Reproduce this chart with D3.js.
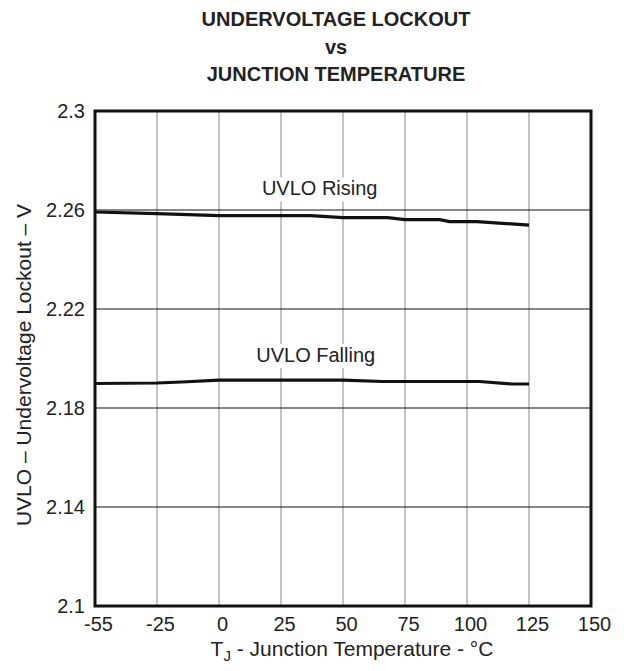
<!DOCTYPE html>
<html>
<head>
<meta charset="utf-8">
<script src="https://cdn.jsdelivr.net/npm/d3@7"></script>
<style>
  body { margin: 0; background: #fff; }
  svg text { font-family: "Liberation Sans", Arial, sans-serif; fill: #222; }
</style>
</head>
<body>
<script>
// data
const xTicks = [-55, -25, 0, 25, 50, 75, 100, 125, 150];
const yTicks = [2.1, 2.14, 2.18, 2.22, 2.26, 2.3];

const risingT = [-55, -25, 0, 37, 50, 68, 75, 89, 93, 104, 125];
const risingV = [2.2592, 2.2585, 2.2577, 2.2577, 2.2569, 2.2569, 2.2561, 2.2561, 2.2553, 2.2553, 2.2539];

const fallingT = [-55, -25, -15, 0, 25, 50, 66, 75, 100, 105, 118, 125];
const fallingV = [2.1899, 2.1901, 2.1905, 2.1913, 2.1913, 2.1913, 2.1907, 2.1907, 2.1907, 2.1907, 2.1897, 2.1897];

const titleLines = ['UNDERVOLTAGE LOCKOUT', 'vs', 'JUNCTION TEMPERATURE'];

const outerW = 624,
    outerH = 671;

const margin = { left: 95, right: 33, top: 111, bottom: 65 };
const w = outerW - margin.left - margin.right,
    h = outerH - margin.top - margin.bottom;

const svg = d3.select('body').append('svg')
    .attr('width', outerW)
    .attr('height', outerH);

// ticks are evenly spaced even though -55 -> -25 is 30 degrees
const x = d3.scaleLinear()
    .domain([-55, -25, 150])
    .range([0, w / 8, w]);
const y = d3.scaleLinear().domain([2.1, 2.3]).range([h, 0]);

const g = svg.append('g')
    .attr('transform', `translate(${margin.left}, ${margin.top})`);

// vertical grid
g.append('g')
    .selectAll('line')
    .data(xTicks.slice(1, -1))
    .enter().append('line')
    .attr('x1', d => x(d)).attr('x2', d => x(d))
    .attr('y1', 0).attr('y2', h)
    .attr('stroke', '#888')
    .attr('stroke-width', 1);

// horizontal grid
g.append('g')
    .selectAll('line')
    .data(yTicks.slice(1, -1))
    .enter().append('line')
    .attr('x1', 0).attr('x2', w)
    .attr('y1', d => y(d)).attr('y2', d => y(d))
    .attr('stroke', '#111')
    .attr('stroke-width', 1);

// axes (labels only)
const xAxis = g.append('g')
    .attr('transform', `translate(0, ${h})`)
    .call(d3.axisBottom(x).tickValues(xTicks).tickSize(0).tickPadding(11).tickFormat(d => String(d)));
xAxis.select('.domain').remove();
xAxis.selectAll('text').attr('font-size', 20).attr('dx', 3).attr('fill', '#222');

const yAxis = g.append('g')
    .call(d3.axisLeft(y).tickValues(yTicks).tickSize(0).tickPadding(10).tickFormat(d => String(+d.toFixed(2))));
yAxis.select('.domain').remove();
yAxis.selectAll('text').attr('font-size', 20).attr('fill', '#222');

// curve labels with white boxes behind
const labels = [
    { text: 'UVLO Rising', t: 40.6, v: 2.2659 },
    { text: 'UVLO Falling', t: 39, v: 2.1986 }
];
labels.forEach(l => {
    const t = g.append('text')
        .attr('x', x(l.t))
        .attr('y', y(l.v))
        .attr('text-anchor', 'middle')
        .attr('font-size', 20)
        .text(l.text);
    const b = t.node().getBBox();
    g.insert('rect', function() { return t.node(); })
        .attr('x', b.x - 2).attr('y', b.y)
        .attr('width', b.width + 4).attr('height', b.height + 2)
        .attr('fill', '#fff');
});

const line = d3.line()
    .x(d => x(d[0]))
    .y(d => y(d[1]));

[[risingT, risingV], [fallingT, fallingV]].forEach(([ts, vs]) => {
    g.append('path')
        .datum(ts.map((t, i) => [t, vs[i]]))
        .attr('d', line)
        .attr('fill', 'none')
        .attr('stroke', '#111')
        .attr('stroke-width', 3.2);
});

// frame
g.append('rect')
    .attr('x', 0).attr('y', 0)
    .attr('width', w).attr('height', h)
    .attr('fill', 'none')
    .attr('stroke', '#111')
    .attr('stroke-width', 3);

// title
svg.append('g')
    .selectAll('text')
    .data(titleLines)
    .enter().append('text')
    .attr('x', 336)
    .attr('y', (d, i) => 26 + i * 27.5)
    .attr('text-anchor', 'middle')
    .attr('font-size', 20)
    .attr('font-weight', 'bold')
    .attr('fill', '#000')
    .text(d => d);

// x label
const xl = svg.append('text')
    .attr('x', 352)
    .attr('y', 656)
    .attr('text-anchor', 'middle')
    .attr('font-size', 21);
xl.append('tspan').text('T');
xl.append('tspan').attr('font-size', 15).attr('dy', 5).text('J');
xl.append('tspan').attr('dy', -5).text(' - Junction Temperature - °C');

// y label
svg.append('text')
    .attr('transform', 'translate(31, 365) rotate(-90)')
    .attr('text-anchor', 'middle')
    .attr('font-size', 21)
    .text('UVLO – Undervoltage Lockout – V');
</script>
</body>
</html>
